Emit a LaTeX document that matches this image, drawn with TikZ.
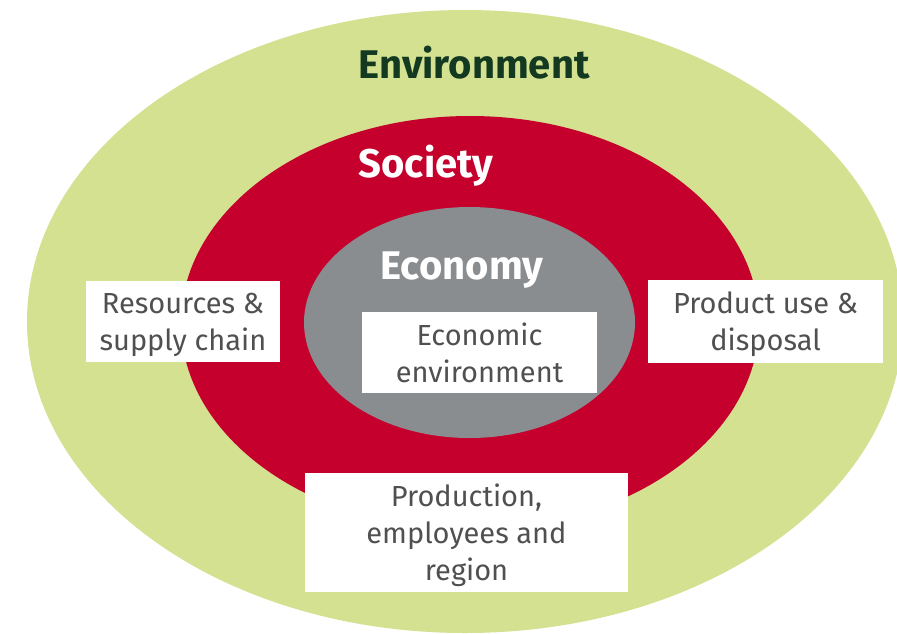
\documentclass[tikz,border=0pt]{standalone}
\usepackage{fontspec}
\setmainfont{Fira Sans}
\usepackage{tikz}
\usetikzlibrary{positioning}
\definecolor{envgreen}{HTML}{D3E191}
\definecolor{socred}{HTML}{C5002D}
\definecolor{ecogray}{HTML}{8A8D90}
\definecolor{envtext}{HTML}{133A20}
\definecolor{boxtext}{HTML}{505050}

\begin{document}
\begin{tikzpicture}[x=1pt,y=-1pt,
  heading/.style={font=\fontsize{40}{40}\selectfont\bfseries,inner sep=0pt,anchor=base},
  labelbox/.style={fill=white,text=boxtext,align=center,inner sep=0pt,text depth=0pt,font=\fontsize{29}{37}\selectfont}]
\useasboundingbox (0,0) rectangle (897,633);
\fill[envgreen] (465,321.5) ellipse [x radius=438pt,y radius=311.5pt];
\fill[socred] (470,323) ellipse [x radius=289pt,y radius=207pt];
\fill[ecogray] (469.5,322.5) ellipse [x radius=165.5pt,y radius=115.5pt];
\node[heading,text=envtext] (env) at (474,78) {Environment};
\node[heading,text=white] (soc) at (426,177) {Society};
\node[heading,text=white] (eco) at (462,279) {Economy};
\node[labelbox,minimum width=194pt,minimum height=81pt] (res) at (183,321.5) {Resources \&\\supply chain};
\node[labelbox,minimum width=235pt,minimum height=83pt] (use) at (765.5,321.5) {Product use \&\\disposal};
\node[labelbox,minimum width=235pt,minimum height=81pt] (econ) at (479.5,352.5) {Economic\\environment};
\node[labelbox,minimum width=323pt,minimum height=119pt] (prod) at (466.5,532.5) {Production,\\employees and\\region};
\end{tikzpicture}
\end{document}
